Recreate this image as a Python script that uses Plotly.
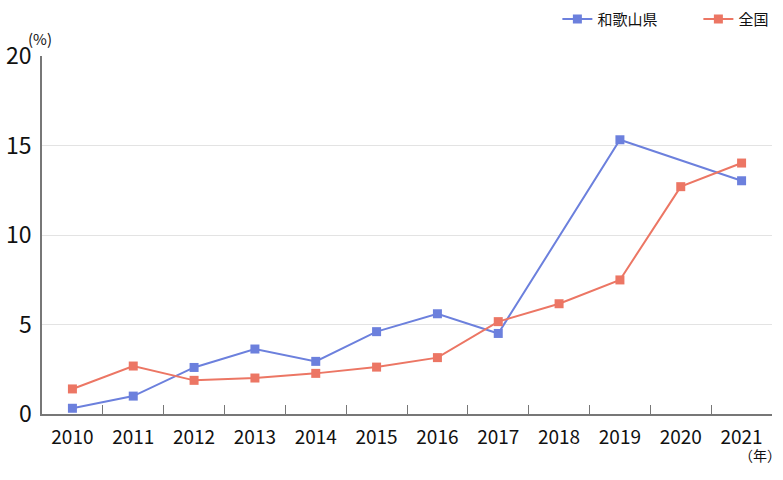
import plotly.graph_objects as go

YEARS = ['2010', '2011', '2012', '2013', '2014', '2015', '2016', '2017', '2018', '2019', '2020', '2021']
WAKAYAMA = [0.32, 1.0, 2.6, 3.63, 2.94, 4.6, 5.6, 4.5, None, 15.32, None, 13.03]
ZENKOKU = [1.4, 2.68, 1.88, 2.01, 2.27, 2.62, 3.15, 5.16, 6.16, 7.49, 12.7, 14.02]

FONT = 'Noto Sans CJK JP'

fig = go.Figure()
fig.add_trace(go.Scatter(
    x=YEARS, y=WAKAYAMA, name='和歌山県', mode='lines+markers',
    connectgaps=True,
    line=dict(color='#6c80dd', width=2),
    marker=dict(symbol='square', size=9, color='#6c80dd'),
))
fig.add_trace(go.Scatter(
    x=YEARS, y=ZENKOKU, name='全国', mode='lines+markers',
    line=dict(color='#ec7664', width=2),
    marker=dict(symbol='square', size=9, color='#ec7664'),
))

fig.update_layout(
    width=783, height=480,
    margin=dict(l=42, r=11, t=56, b=66, autoexpand=False),
    plot_bgcolor='white', paper_bgcolor='white',
    font=dict(family=FONT, color='#111111'),
    showlegend=True,
    legend=dict(orientation='h', x=0.706, xanchor='left', y=1.103, yanchor='middle',
                font=dict(size=15), bgcolor='rgba(0,0,0,0)', entrywidth=96),
    annotations=[
        dict(text='(%)', x=-0.003, xref='paper', xanchor='center', y=1.05, yref='paper',
             yanchor='middle', showarrow=False, font=dict(size=15, family=FONT)),
        dict(text='（年）', x=0.984, xref='paper', xanchor='center', y=-0.115, yref='paper',
             yanchor='middle', showarrow=False, font=dict(size=14, family=FONT)),
    ],
)
fig.update_xaxes(
    type='category', range=[-0.5, 11.5], automargin=False,
    showline=True, linecolor='#777777', linewidth=1.5,
    ticks='inside', tickson='boundaries', ticklen=9, tickcolor='#777777',
    showgrid=False, tickfont=dict(size=19), ticklabelstandoff=5,
)
fig.update_yaxes(
    range=[0, 20], dtick=5, automargin=False,
    showline=True, linecolor='#777777', linewidth=1.5,
    showgrid=True, gridcolor='#e3e3e3', gridwidth=1, zeroline=False,
    tickfont=dict(size=23), ticklabelstandoff=4,
)

fig.write_html('out.html', config={'displayModeBar': False},
               post_script="document.body.style.margin='0';")
